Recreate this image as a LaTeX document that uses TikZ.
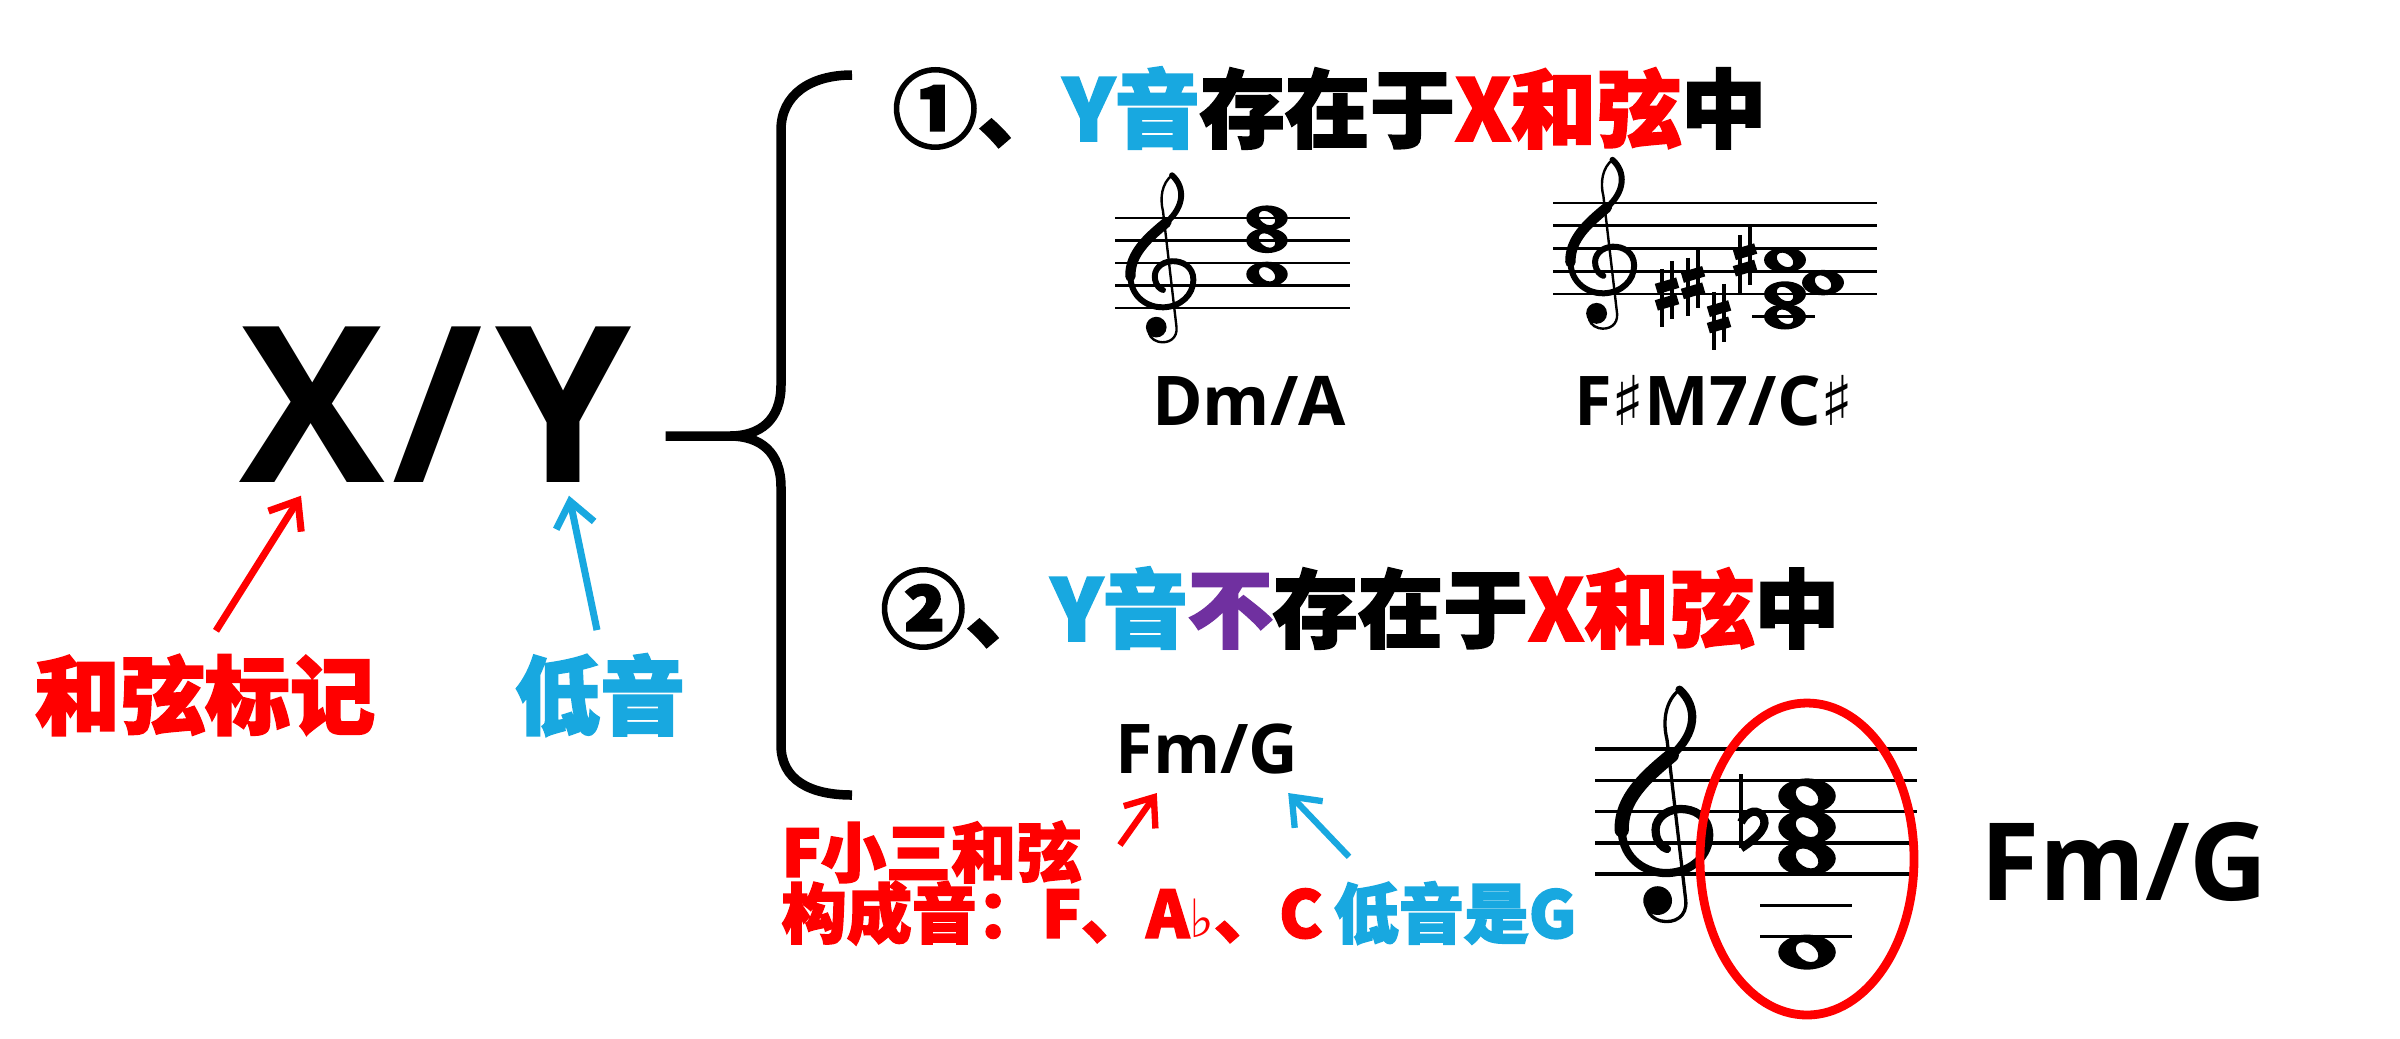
\documentclass[tikz,border=0pt]{standalone}
\usepackage{fontspec}
\usetikzlibrary{arrows.meta,calc}
\newfontfamily\hei{Noto Sans CJK SC}[BoldFeatures={FakeBold=2.5}]
\newfontfamily\lat{Open Sans}
\newfontfamily\sym{DejaVu Sans}
\definecolor{chordred}{RGB}{255,0,0}
\definecolor{bassblue}{RGB}{24,168,224}
\definecolor{notpurple}{RGB}{112,48,160}

% whole note: x, y, staff space
\newcommand\wnote[3]{%
  \fill[even odd rule] (#1,#2) ellipse [x radius={0.92*#3}, y radius={0.56*#3}]
    [rotate around={-35:(#1,#2)}] (#1,#2) ellipse [x radius={0.4*#3}, y radius={0.27*#3}];}
% sharp: x, y, staff space
\newcommand\sharpm[3]{%
  \draw[line width={0.05pt*#3}] (#1-0.22*#3,#2-1.1*#3) -- (#1-0.22*#3,#2+1.45*#3)
    (#1+0.22*#3,#2-1.45*#3) -- (#1+0.22*#3,#2+1.1*#3);
  \draw[line width={0.135pt*#3}] (#1-0.47*#3,#2-0.22*#3) -- (#1+0.47*#3,#2-0.5*#3)
    (#1-0.47*#3,#2+0.5*#3) -- (#1+0.47*#3,#2+0.22*#3);}
% flat: x, y, staff space
\newcommand\flatm[3]{%
  \draw[line width={0.035pt*#3}] (#1-0.32*#3,#2-1.7*#3) -- (#1-0.32*#3,#2+0.68*#3);
  \draw[line width={0.075pt*#3}] (#1-0.32*#3,#2+0.68*#3) .. controls (#1+0.25*#3,#2+0.3*#3) and (#1+0.6*#3,#2-0.05*#3) .. (#1+0.35*#3,#2-0.38*#3)
    .. controls (#1+0.1*#3,#2-0.65*#3) and (#1-0.2*#3,#2-0.4*#3) .. (#1-0.32*#3,#2-0.15*#3);}
% treble clef: left x, bottom line y, staff space
\newcommand\gclef[3]{%
  \begin{scope}[shift={(#1,#2)},x=#3*0.01cm,y=#3*0.01cm,line cap=round]
    \draw[line width={0.03pt*#3}] (2.0,5.9) .. controls (1.55,5.55) and (1.45,4.9) .. (1.6,4.3) -- (2.2,-0.85)
      .. controls (2.25,-1.35) and (1.85,-1.6) .. (1.4,-1.5) .. controls (1.1,-1.42) and (0.95,-1.2) .. (0.95,-0.95);
    \draw[line width={0.075pt*#3}] (2.0,5.9) .. controls (2.6,5.35) and (2.55,4.5) .. (1.75,3.8)
      .. controls (0.9,3.1) and (0.12,2.4) .. (0.15,1.4) .. controls (0.18,0.45) and (0.95,0.02) .. (1.6,0.03)
      .. controls (2.4,0.05) and (2.95,0.6) .. (2.95,1.25) .. controls (2.95,1.85) and (2.45,2.1) .. (2.0,2.08)
      .. controls (1.5,2.05) and (1.15,1.7) .. (1.25,1.25) .. controls (1.3,1.0) and (1.45,0.85) .. (1.6,0.8);
    \draw[line width={0.13pt*#3}] (1.75,3.8) .. controls (0.9,3.1) and (0.12,2.4) .. (0.15,1.4);
    \fill (1.3,-0.85) circle [radius=0.46];
  \end{scope}}

\begin{document}
\begin{tikzpicture}[x=0.01cm,y=-0.01cm]
  \tikzstyle{cjk}=[font=\hei\bfseries\fontsize{24.2}{29}\selectfont,inner sep=0pt]
  \tikzstyle{note}=[font=\hei\bfseries\fontsize{18.5}{22}\selectfont,inner sep=0pt,anchor=west]
  \tikzstyle{chordname}=[font=\lat\bfseries\fontsize{19.5}{23}\selectfont,inner sep=0pt,anchor=base]
  \tikzstyle{bigletter}=[font=\lat\bfseries\fontsize{62}{70}\selectfont,inner sep=0pt,anchor=base]
  \tikzstyle{staff}=[line width=0.8pt]
  \tikzstyle{brace}=[line width=2.7pt]
  \tikzstyle{redarrow}=[chordred,line width=2pt,-{Straight Barb[length=7pt,width=11pt]}]
  \tikzstyle{bluearrow}=[bassblue,line width=2pt,-{Straight Barb[length=7pt,width=11pt]}]

  \fill[white] (0,0) rectangle (2400,1038);

  \node[bigletter] (X) at (312,482) {X};
  \node[bigletter] (slash) at (438,482) {/};
  \node[bigletter] (Y) at (564,482) {Y};

  \node[cjk,text=chordred] (chord) at (205,695) {和弦标记};
  \node[cjk,text=bassblue] (bass) at (600,695) {低音};

  \draw[redarrow] ($(chord.north)+(11,-23)$) -- ($(X.south)+(-11,13)$);
  \draw[bluearrow] ($(bass.north)+(-3,-23)$) -- ($(Y.south)+(5,13)$);

  \coordinate (tip) at (730,436);
  \draw[brace] ($(Y.east |- tip)+(33,0)$) -- (tip) .. controls (760,436) and (781,420) .. (781,385)
    -- (781,130) .. controls (781,95) and (810,75) .. (852,75);
  \draw[brace] (tip) .. controls (760,436) and (781,452) .. (781,487)
    -- (781,745) .. controls (781,780) and (810,795) .. (852,795);

  \node[cjk,anchor=west] (case1) at (892,108) {①、\textcolor{bassblue}{Y音}存在于\textcolor{chordred}{X和弦}中};

  \foreach \i in {0,...,4}
    \draw[staff] (1115,218+22.5*\i) -- (1350,218+22.5*\i);
  \gclef{1127}{308}{22.5}
  \wnote{1267}{218}{22.5}
  \wnote{1267}{240.5}{22.5}
  \wnote{1267}{274.25}{22.5}
  \node[chordname] (dma) at (1249,425) {Dm/A};

  \foreach \i in {0,...,4}
    \draw[staff] (1553,203+22.75*\i) -- (1877,203+22.75*\i);
  \gclef{1567}{294}{22.75}
  \sharpm{1667}{294}{22.75}
  \sharpm{1693}{282.6}{22.75}
  \sharpm{1719}{316.75}{22.75}
  \sharpm{1745}{259.9}{22.75}
  \draw[staff] (1752,316.75) -- (1815,316.75);
  \wnote{1785}{259.9}{22.75}
  \wnote{1785}{294}{22.75}
  \wnote{1785}{316.75}{22.75}
  \wnote{1823}{282.6}{22.75}
  \node[chordname] (fsharp) at (1714,425) {F{\sym ♯}M7/C{\sym ♯}};

  \node[cjk,anchor=west] (case2) at (880,608) {②、\textcolor{bassblue}{Y音}\textcolor{notpurple}{不}存在于\textcolor{chordred}{X和弦}中};

  \node[chordname] (fmg) at (1207,773) {Fm/G};
  \node[note,text=chordred] (minor) at (781,852) {F小三和弦};
  \node[note,text=chordred] (tones) at (781,913) {构成音：F、A{\sym\fontsize{15}{15}\selectfont ♭}、C};
  \node[note,text=bassblue] (bassG) at (1333,913) {低音是G};
  \draw[redarrow,line width=1.8pt] ($(minor.east)+(38,-7)$) -- ($(fmg.base west)+(42,20)$);
  \draw[bluearrow,line width=1.8pt] ($(bassG.north west)+(16,-24)$) -- ($(fmg.base east)+(-11,20)$);

  \foreach \i in {0,...,4}
    \draw[staff,line width=1pt] (1595,749+31.25*\i) -- (1917,749+31.25*\i);
  \gclef{1617}{874}{31.25}
  \flatm{1751}{827.1}{31.25}
  \wnote{1807}{795.9}{31.25}
  \wnote{1807}{827.1}{31.25}
  \wnote{1807}{858.4}{31.25}
  \draw[staff,line width=1pt] (1760,905.25) -- (1852,905.25) (1760,936.5) -- (1852,936.5);
  \wnote{1807}{952.1}{31.25}
  \draw[chordred,line width=2.5pt] (1807,859) ellipse [x radius=107, y radius=156];
  \node[chordname,font=\lat\bfseries\fontsize{30.7}{36}\selectfont] (fmgbig) at (2124,900) {Fm/G};
\end{tikzpicture}
\end{document}
